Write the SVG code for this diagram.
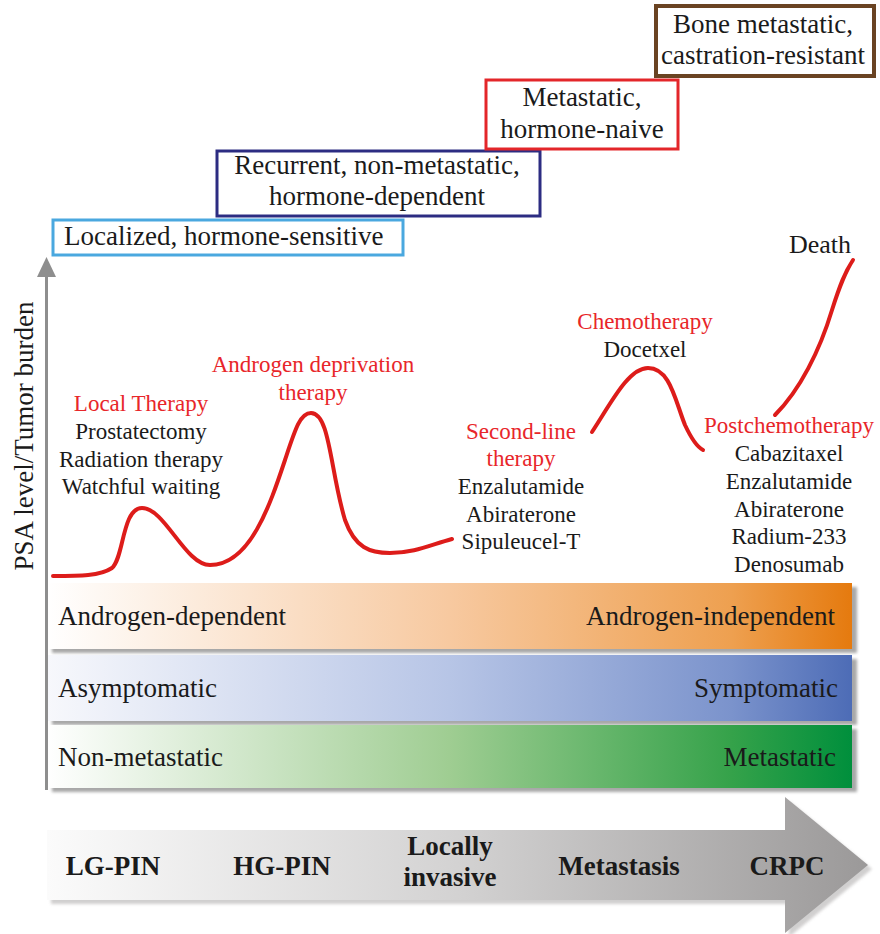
<svg xmlns="http://www.w3.org/2000/svg" width="880" height="934" viewBox="0 0 880 934">
<defs>
<linearGradient id="gOr" x1="0" y1="0" x2="1" y2="0">
<stop offset="0" stop-color="#ffffff"/><stop offset="0.5" stop-color="#f7c9a0"/><stop offset="0.85" stop-color="#eea050"/><stop offset="1" stop-color="#e57a0e"/>
</linearGradient>
<linearGradient id="gBl" x1="0" y1="0" x2="1" y2="0">
<stop offset="0" stop-color="#f7f8fc"/><stop offset="0.5" stop-color="#b7c5e6"/><stop offset="0.85" stop-color="#7b93cc"/><stop offset="1" stop-color="#4d6cb6"/>
</linearGradient>
<linearGradient id="gGr" x1="0" y1="0" x2="1" y2="0">
<stop offset="0" stop-color="#ffffff"/><stop offset="0.5" stop-color="#9fcd92"/><stop offset="0.85" stop-color="#35a24a"/><stop offset="1" stop-color="#008f3c"/>
</linearGradient>
<linearGradient id="gAr" x1="0" y1="0" x2="1" y2="0">
<stop offset="0" stop-color="#fbfbfb"/><stop offset="0.5" stop-color="#d3d2d2"/><stop offset="1" stop-color="#9b9999"/>
</linearGradient>
<filter id="soft" x="-5%" y="-20%" width="110%" height="140%">
<feGaussianBlur stdDeviation="1.5"/>
</filter>
</defs>
<style>
text{font-family:'Liberation Serif','Times New Roman',serif;fill:#1a1a1a}
.box{font-size:27px;text-anchor:middle}
.lab{font-size:23px;text-anchor:middle}
.red{fill:#e8262a}
.band{font-size:27px}
.stage{font-size:27px;font-weight:bold;text-anchor:middle}
.curve{fill:none;stroke:#dd1c1a;stroke-width:4;stroke-linecap:round}
.shadow{fill:#a8a8a8;filter:url(#soft)}
</style>

<g id="stage-localized">
<rect x="53" y="220" width="350" height="35" fill="#fff" stroke="#4aa8df" stroke-width="3"/>
<text class="box" x="64" y="245" text-anchor="start" style="text-anchor:start">Localized, hormone-sensitive</text>
</g>
<g id="stage-recurrent">
<rect x="217" y="151" width="323" height="65" fill="#fff" stroke="#2c2c82" stroke-width="3"/>
<text class="box" x="377" y="174">Recurrent, non-metastatic,</text>
<text class="box" x="377" y="205">hormone-dependent</text>
</g>
<g id="stage-metastatic">
<rect x="486" y="80" width="192" height="69" fill="#fff" stroke="#e3262a" stroke-width="3"/>
<text class="box" x="582" y="106">Metastatic,</text>
<text class="box" x="582" y="138">hormone-naive</text>
</g>
<g id="stage-bone">
<rect x="656" y="6" width="218" height="70" fill="#fff" stroke="#6a4322" stroke-width="4"/>
<text class="box" x="763" y="33">Bone metastatic,</text>
<text class="box" x="763" y="64">castration-resistant</text>
</g>

<g id="bands">
<rect class="shadow" x="52" y="587" width="805" height="66"/>
<rect x="47" y="583" width="805" height="66" fill="url(#gOr)"/>
<text class="band" x="58" y="625">Androgen-dependent</text>
<text class="band" x="835" y="625" text-anchor="end">Androgen-independent</text>
<rect class="shadow" x="52" y="659" width="805" height="66"/>
<rect x="47" y="655" width="805" height="66" fill="url(#gBl)"/>
<text class="band" x="58" y="697">Asymptomatic</text>
<text class="band" x="838" y="697" text-anchor="end">Symptomatic</text>
<rect class="shadow" x="52" y="729" width="805" height="63"/>
<rect x="47" y="725" width="805" height="63" fill="url(#gGr)"/>
<text class="band" x="58" y="766">Non-metastatic</text>
<text class="band" x="836" y="766" text-anchor="end">Metastatic</text>
</g>

<g id="axis">
<line x1="46.5" y1="790" x2="46.5" y2="272" stroke="#8e8e8e" stroke-width="3"/>
<path d="M37,277 L46.5,257 L56,277 Z" fill="#8e8e8e"/>
<text x="33" y="436" font-size="27" text-anchor="middle" transform="rotate(-90 33 436)">PSA level/Tumor burden</text>
</g>

<g id="progression-arrow">
<path d="M51,834 L789,834 L789,801 L872,869 L789,937 L789,904 L51,904 Z" fill="#bdbbbb" opacity="0.7" style="filter:url(#soft)"/>
<path d="M47,830 L785,830 L785,797 L868,865 L785,933 L785,900 L47,900 Z" fill="url(#gAr)"/>
<text class="stage" x="113" y="875">LG-PIN</text>
<text class="stage" x="282" y="875">HG-PIN</text>
<text class="stage" x="450" y="855">Locally</text>
<text class="stage" x="450" y="886">invasive</text>
<text class="stage" x="619" y="875">Metastasis</text>
<text class="stage" x="787" y="875">CRPC</text>
</g>

<g id="connectors">
<path class="curve" d="M53,576 C80,576 100,576 112,568 C124,558 122,508 142,508 C165,508 185,565 210,565 C250,565 270,505 285,460 C295,430 300,413 311,413 C330,413 330,470 345,520 C355,548 370,553 390,553 C415,553 430,545 452,539"/>
<path class="curve" d="M592,432 C610,405 628,368 648,368 C670,368 675,400 685,425 C692,440 697,447 703,450"/>
<path class="curve" d="M775,415 C800,390 820,350 832,310 C840,285 845,272 853,260"/>
</g>

<g id="label-local">
<text class="lab red" x="141" y="411">Local Therapy</text>
<text class="lab" x="141" y="439">Prostatectomy</text>
<text class="lab" x="141" y="467">Radiation therapy</text>
<text class="lab" x="141" y="494">Watchful waiting</text>
</g>
<g id="label-adt">
<text class="lab red" x="313" y="372">Androgen deprivation</text>
<text class="lab red" x="313" y="400">therapy</text>
</g>
<g id="label-second">
<text class="lab red" x="521" y="439">Second-line</text>
<text class="lab red" x="521" y="466">therapy</text>
<text class="lab" x="521" y="494">Enzalutamide</text>
<text class="lab" x="521" y="522">Abiraterone</text>
<text class="lab" x="521" y="549">Sipuleucel-T</text>
</g>
<g id="label-chemo">
<text class="lab red" x="645" y="329">Chemotherapy</text>
<text class="lab" x="645" y="357">Docetxel</text>
</g>
<g id="label-post">
<text class="lab red" x="789" y="433">Postchemotherapy</text>
<text class="lab" x="789" y="461">Cabazitaxel</text>
<text class="lab" x="789" y="489">Enzalutamide</text>
<text class="lab" x="789" y="517">Abiraterone</text>
<text class="lab" x="789" y="544">Radium-233</text>
<text class="lab" x="789" y="572">Denosumab</text>
</g>
<g id="label-death">
<text x="820" y="253" font-size="26" text-anchor="middle">Death</text>
</g>
</svg>
